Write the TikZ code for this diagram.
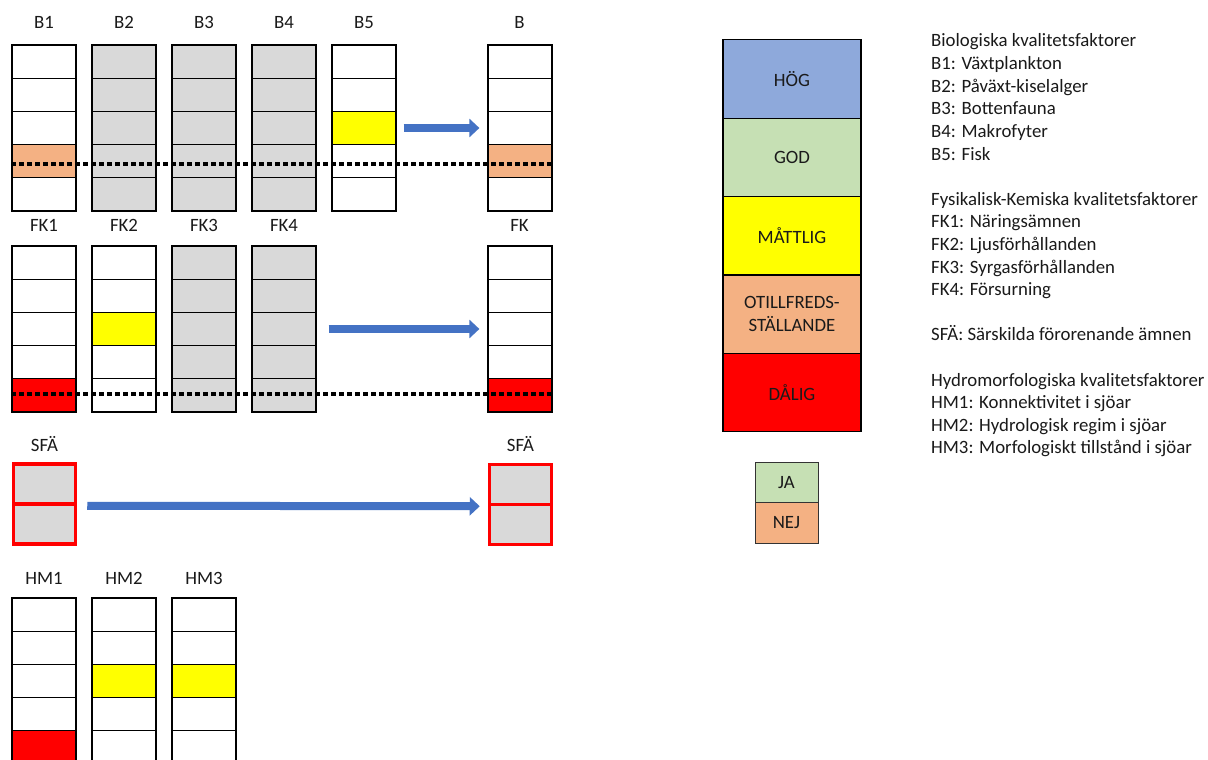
\documentclass[tikz,border=0pt]{standalone}
\usepackage{fontspec}
\setmainfont{Carlito}
\usetikzlibrary{arrows.meta}
\definecolor{cgray}{HTML}{D9D9D9}
\definecolor{cyel}{HTML}{FFFF00}
\definecolor{cora}{HTML}{F4B183}
\definecolor{cred}{HTML}{FF0000}
\definecolor{cblue}{HTML}{8EA9DB}
\definecolor{cgreen}{HTML}{C6E0B4}
\definecolor{carrow}{HTML}{4472C4}
\definecolor{ctext}{HTML}{1A1A1A}
\newcommand\mkcol[4]{%
  \foreach \c [count=\i] in {#4} {%
    \node[cell, fill=\c] (#1-\i) at ({#2+32}, {#3+33.2*\i-16.6}) {};}}
\begin{document}
\begin{tikzpicture}[x=1pt,y=-1pt,
  txt/.style={font=\fontsize{18.8}{22.5}\selectfont, text=ctext, inner sep=0},
  lab/.style={txt, anchor=base},
  leg/.style={txt, anchor=base west},
  cell/.style={draw=black, line width=1.2pt, minimum width=64pt, minimum height=33.2pt, inner sep=0},
  redcell/.style={draw=cred, line width=3.5pt, fill=cgray, minimum width=62pt, minimum height=40pt, inner sep=0},
  scalebox/.style={draw=black, line width=1.2pt, minimum width=138pt, minimum height=78.4pt, inner sep=0, txt, align=center},
  yn/.style={draw=black!80, line width=1pt, minimum width=63pt, minimum height=40.5pt, inner sep=0, txt},
  dotline/.style={line width=4pt, dash pattern=on 4.6pt off 3.4pt, black},
  bigarrow/.style={line width=8pt, carrow, -{Triangle[length=10pt, width=18pt]}}
]
\useasboundingbox[fill=white] (0,0) rectangle (1208,760);
\clip (0,0) rectangle (1208,760);

% B row
\node[lab] (lB1) at (44,29) {B1};
\node[lab] (lB2) at (124,29) {B2};
\node[lab] (lB3) at (204,29) {B3};
\node[lab] (lB4) at (284,29) {B4};
\node[lab] (lB5) at (364,29) {B5};
\node[lab] (lB) at (519.5,29) {B};
\mkcol{B1}{12}{45}{white,white,white,cora,white}
\mkcol{B2}{92}{45}{cgray,cgray,cgray,cgray,cgray}
\mkcol{B3}{172}{45}{cgray,cgray,cgray,cgray,cgray}
\mkcol{B4}{252}{45}{cgray,cgray,cgray,cgray,cgray}
\mkcol{B5}{332}{45}{white,white,cyel,white,white}
\mkcol{B}{488}{45}{white,white,white,cora,white}
\draw[dotline] ([yshift=-3pt]B1-4.west) -- ([yshift=-3pt]B-4.east);
\draw[bigarrow] ([xshift=7pt]B5-3.east) -- ([xshift=-8pt]B-3.west);

% FK row
\node[lab] (lFK1) at (44,231) {FK1};
\node[lab] (lFK2) at (124,231) {FK2};
\node[lab] (lFK3) at (204,231) {FK3};
\node[lab] (lFK4) at (284,231) {FK4};
\node[lab] (lFK) at (519.5,231) {FK};
\mkcol{FK1}{12}{246}{white,white,white,white,cred}
\mkcol{FK2}{92}{246}{white,white,cyel,white,white}
\mkcol{FK3}{172}{246}{cgray,cgray,cgray,cgray,cgray}
\mkcol{FK4}{252}{246}{cgray,cgray,cgray,cgray,cgray}
\mkcol{FK}{488}{246}{white,white,white,white,cred}
\draw[dotline] ([yshift=1pt]FK1-5.west) -- ([yshift=1pt]FK-5.east);
\draw[bigarrow] ([xshift=12pt]FK4-3.east) -- ([xshift=-8pt]FK-3.west);

% SFA row
\node[lab] (lS1) at (44.5,451) {SFÄ};
\node[lab] (lS2) at (520.5,451) {SFÄ};
\node[redcell] (S1a) at (44.5,484) {};
\node[redcell] (S1b) at (44.5,524) {};
\node[redcell] (S2a) at (520.5,484.5) {};
\node[redcell] (S2b) at (520.5,524.5) {};
\draw[bigarrow] ([xshift=10pt]S1a.south east) -- ([xshift=-8pt]S2a.south west);

% HM row
\node[lab] (lH1) at (44,584) {HM1};
\node[lab] (lH2) at (124,584) {HM2};
\node[lab] (lH3) at (204,584) {HM3};
\mkcol{HM1}{12}{598}{white,white,white,white,cred}
\mkcol{HM2}{92}{598}{white,white,cyel,white,white}
\mkcol{HM3}{172}{598}{white,white,cyel,white,white}

% scale
\node[scalebox, fill=cblue] (hog) at (792,79) {HÖG};
\node[scalebox, fill=cgreen] (god) at (792,157.4) {GOD};
\node[scalebox, fill=cyel] (mat) at (792,235.8) {MÅTTLIG};
\node[scalebox, fill=cora] (otf) at (792,314.2) {OTILLFREDS-\\STÄLLANDE};
\node[scalebox, fill=cred] (dal) at (792,392.6) {DÅLIG};
\node[yn, fill=cgreen] (ja) at (786.5,482.5) {JA};
\node[yn, fill=cora] (nej) at (786.5,523) {NEJ};

% legend text
\node[leg] (t1) at (931,47) {Biologiska kvalitetsfaktorer};
\node[leg] (t2) at (931,69.6) {B1: Växtplankton};
\node[leg] (t3) at (931,92.2) {B2: Påväxt-kiselalger};
\node[leg] (t4) at (931,114.8) {B3: Bottenfauna};
\node[leg] (t5) at (931,137.4) {B4: Makrofyter};
\node[leg] (t6) at (931,160) {B5: Fisk};
\node[leg] (t7) at (931,205.2) {Fysikalisk-Kemiska kvalitetsfaktorer};
\node[leg] (t8) at (931,227.8) {FK1: Näringsämnen};
\node[leg] (t9) at (931,250.4) {FK2: Ljusförhållanden};
\node[leg] (t10) at (931,273) {FK3: Syrgasförhållanden};
\node[leg] (t11) at (931,295.6) {FK4: Försurning};
\node[leg] (t12) at (931,340.8) {SFÄ: Särskilda förorenande ämnen};
\node[leg] (t13) at (931,386) {Hydromorfologiska kvalitetsfaktorer};
\node[leg] (t14) at (931,408.6) {HM1: Konnektivitet i sjöar};
\node[leg] (t15) at (931,431.2) {HM2: Hydrologisk regim i sjöar};
\node[leg] (t16) at (931,453.8) {HM3: Morfologiskt tillstånd i sjöar};
\end{tikzpicture}
\end{document}
